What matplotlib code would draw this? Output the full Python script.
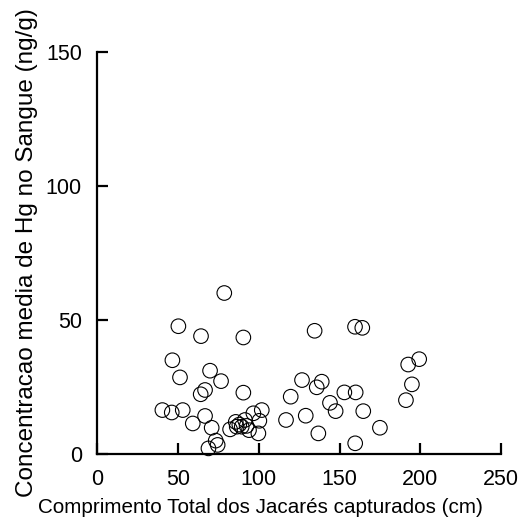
import matplotlib
matplotlib.use("Agg")
import matplotlib.pyplot as plt

plt.rcParams['font.family'] = ['Liberation Sans', 'DejaVu Sans']

comprimento = [78.7, 50.3, 64.3, 90.5, 46.6, 69.9, 51.3, 76.7, 66.8, 64.1, 90.5,
               40.4, 46.2, 53.0, 59.2, 66.8, 70.9, 73.4, 74.6, 68.9,
               82.3, 85.8, 86.4, 89.5, 91.5, 94.0, 96.7, 99.8, 100.4, 101.9, 88.0, 92.5,
               134.6, 159.6, 164.1, 199.3, 192.5, 194.8, 191.1, 126.8, 139.0, 135.9,
               119.8, 153.0, 160.0, 144.1, 147.6, 164.7, 116.9, 129.1, 136.9, 175.0, 159.7]
hg = [60.1, 47.7, 44.0, 43.5, 35.0, 31.1, 28.6, 27.2, 23.9, 22.3, 22.9,
      16.4, 15.5, 16.4, 11.4, 14.2, 9.8, 5.0, 3.4, 2.1,
      9.2, 12.0, 10.2, 10.2, 12.7, 8.9, 15.2, 7.7, 12.4, 16.4, 11.0, 10.5,
      46.0, 47.5, 47.1, 35.4, 33.4, 26.0, 20.1, 27.6, 27.0, 24.9,
      21.4, 23.0, 23.0, 19.1, 16.0, 16.0, 12.7, 14.3, 7.7, 9.8, 4.0]

xticks = [0, 50, 100, 150, 200, 250]
yticks = [0, 50, 100, 150]

fig = plt.figure(figsize=(5.22, 5.27), dpi=100)
ax = fig.add_axes([0.186, 0.1385, 0.774, 0.7625])
ax.scatter(comprimento, hg, s=110, facecolors='none', edgecolors='black', linewidths=0.8, clip_on=False)
ax.set_xlim(0, 250)
ax.set_ylim(0, 150)
ax.set_xticks(xticks)
ax.set_yticks(yticks)
for s in ['top', 'right']:
    ax.spines[s].set_visible(False)
for s in ['left', 'bottom']:
    ax.spines[s].set_linewidth(1.6)
ax.tick_params(direction='in', length=8, width=1.6, labelsize=15.5, pad=11)
ax.set_xlabel('Comprimento Total dos Jacarés capturados (cm)', fontsize=14.9, va='baseline')
ax.xaxis.set_label_coords(0.4035, -0.1468)
ax.set_ylabel('Concentracao media de Hg no Sangue (ng/g)', fontsize=17.5, va='baseline',
              rotation_mode='anchor')
ax.yaxis.set_label_coords(-0.1584, 0.5025)
fig.savefig('out.png', dpi=100)
